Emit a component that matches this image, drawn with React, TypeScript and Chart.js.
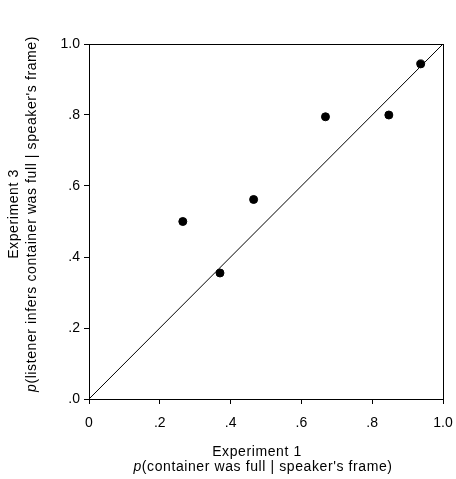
import { useEffect, useRef } from "react";
import { Chart, registerables } from "chart.js";

Chart.register(...registerables);

// values
const expOne = [0.265, 0.37, 0.465, 0.668, 0.847, 0.937];
const expThree = [0.5, 0.355, 0.562, 0.795, 0.8, 0.944];
const diagonal = [0, 1];

const xTickLabels = ["0", ".2", ".4", ".6", ".8", "1.0"];
const yTickLabels = [".0", ".2", ".4", ".6", ".8", "1.0"];

const xTitle = ["Experiment 1", "container was full | speaker's frame)"];
const yTitle = ["Experiment 3", "listener infers container was full | speaker's frame)"];

const FONT = "Liberation Sans, Arial, sans-serif";

// draws "p(...)" line: italic p followed by upright rest
const drawPLine = (
  ctx: CanvasRenderingContext2D,
  rest: string,
  cx: number,
  cy: number,
  size: number
) => {
  ctx.font = `italic ${size}px ${FONT}`;
  const pw = ctx.measureText("p").width;
  ctx.font = `${size}px ${FONT}`;
  const rw = ctx.measureText("(" + rest).width;
  const start = cx - (pw + rw) / 2;
  ctx.textAlign = "left";
  ctx.font = `italic ${size}px ${FONT}`;
  ctx.fillText("p", start, cy);
  ctx.font = `${size}px ${FONT}`;
  ctx.fillText("(" + rest, start + pw, cy);
};

const framePlugin = {
  id: "frameAndTitles",
  afterDraw(chart: Chart) {
    const { ctx, chartArea } = chart;
    ctx.save();
    ctx.strokeStyle = "#000";
    ctx.lineWidth = 1;
    ctx.strokeRect(
      Math.round(chartArea.left) + 0.5,
      Math.round(chartArea.top) + 0.5,
      Math.round(chartArea.right - chartArea.left),
      Math.round(chartArea.bottom - chartArea.top)
    );
    ctx.fillStyle = "#000";
    (ctx as any).letterSpacing = "0.6px";

    // x axis title
    ctx.textBaseline = "alphabetic";
    ctx.textAlign = "center";
    ctx.font = `14px ${FONT}`;
    ctx.fillText(xTitle[0], 257, 456);
    drawPLine(ctx, xTitle[1], 263, 471, 14);

    // y axis title
    ctx.textBaseline = "middle";
    ctx.save();
    ctx.translate(14, 214);
    ctx.rotate(-Math.PI / 2);
    ctx.textAlign = "center";
    ctx.font = `14px ${FONT}`;
    ctx.fillText(yTitle[0], 0, 0);
    ctx.restore();
    ctx.save();
    ctx.translate(32, 214);
    ctx.rotate(-Math.PI / 2);
    drawPLine(ctx, yTitle[1], 0, 0, 14);
    ctx.restore();
    ctx.restore();
  },
};

export default function App() {
  const canvasRef = useRef<HTMLCanvasElement>(null);
  const chartRef = useRef<Chart | null>(null);

  useEffect(() => {
    document.body.style.margin = "0";
    if (!canvasRef.current) return;
    if (chartRef.current) chartRef.current.destroy();

    chartRef.current = new Chart(canvasRef.current, {
      type: "scatter",
      data: {
        datasets: [
          {
            type: "line",
            data: diagonal.map((v) => ({ x: v, y: v })),
            borderColor: "#000",
            borderWidth: 1,
            pointRadius: 0,
            fill: false,
          },
          {
            data: expOne.map((x, i) => ({ x, y: expThree[i] })),
            backgroundColor: "#000",
            borderColor: "#000",
            pointRadius: 4,
          },
        ],
      },
      options: {
        animation: false,
        responsive: false,
        devicePixelRatio: 1,
        layout: { padding: { top: 44, right: 13, left: 0, bottom: 0 } },
        plugins: {
          legend: { display: false },
          tooltip: { enabled: false },
        },
        scales: {
          x: {
            type: "linear",
            min: 0,
            max: 1,
            afterFit: (s: any) => {
              s.height = 80;
              s.paddingLeft = 0;
              s.paddingRight = 0;
            },
            afterBuildTicks: (s: any) => {
              s.ticks = xTickLabels.map((_, i) => ({ value: i * 0.2 }));
            },
            border: { display: true, color: "#000", width: 1 },
            grid: {
              drawOnChartArea: false,
              drawTicks: true,
              tickLength: 5,
              color: "#000",
            },
            ticks: {
              color: "#000",
              padding: 11,
              font: { family: FONT, size: 14 },
              maxRotation: 0,
              callback: (_v: any, i: number) => xTickLabels[i],
            },
          },
          y: {
            type: "linear",
            min: 0,
            max: 1,
            afterFit: (s: any) => {
              s.width = 89;
              s.paddingTop = 0;
              s.paddingBottom = 0;
            },
            afterBuildTicks: (s: any) => {
              s.ticks = yTickLabels.map((_, i) => ({ value: i * 0.2 }));
            },
            border: { display: true, color: "#000", width: 1 },
            grid: {
              drawOnChartArea: false,
              drawTicks: true,
              tickLength: 5,
              color: "#000",
            },
            ticks: {
              color: "#000",
              padding: 4,
              font: { family: FONT, size: 14 },
              callback: (_v: any, i: number) => yTickLabels[i],
            },
          },
        },
      },
      plugins: [framePlugin],
    });

    return () => {
      chartRef.current?.destroy();
      chartRef.current = null;
    };
  }, []);

  return (
    <div style={{ position: "relative", width: 456, height: 479, background: "#fff" }}>
      <canvas ref={canvasRef} width={456} height={479} />
    </div>
  );
}
